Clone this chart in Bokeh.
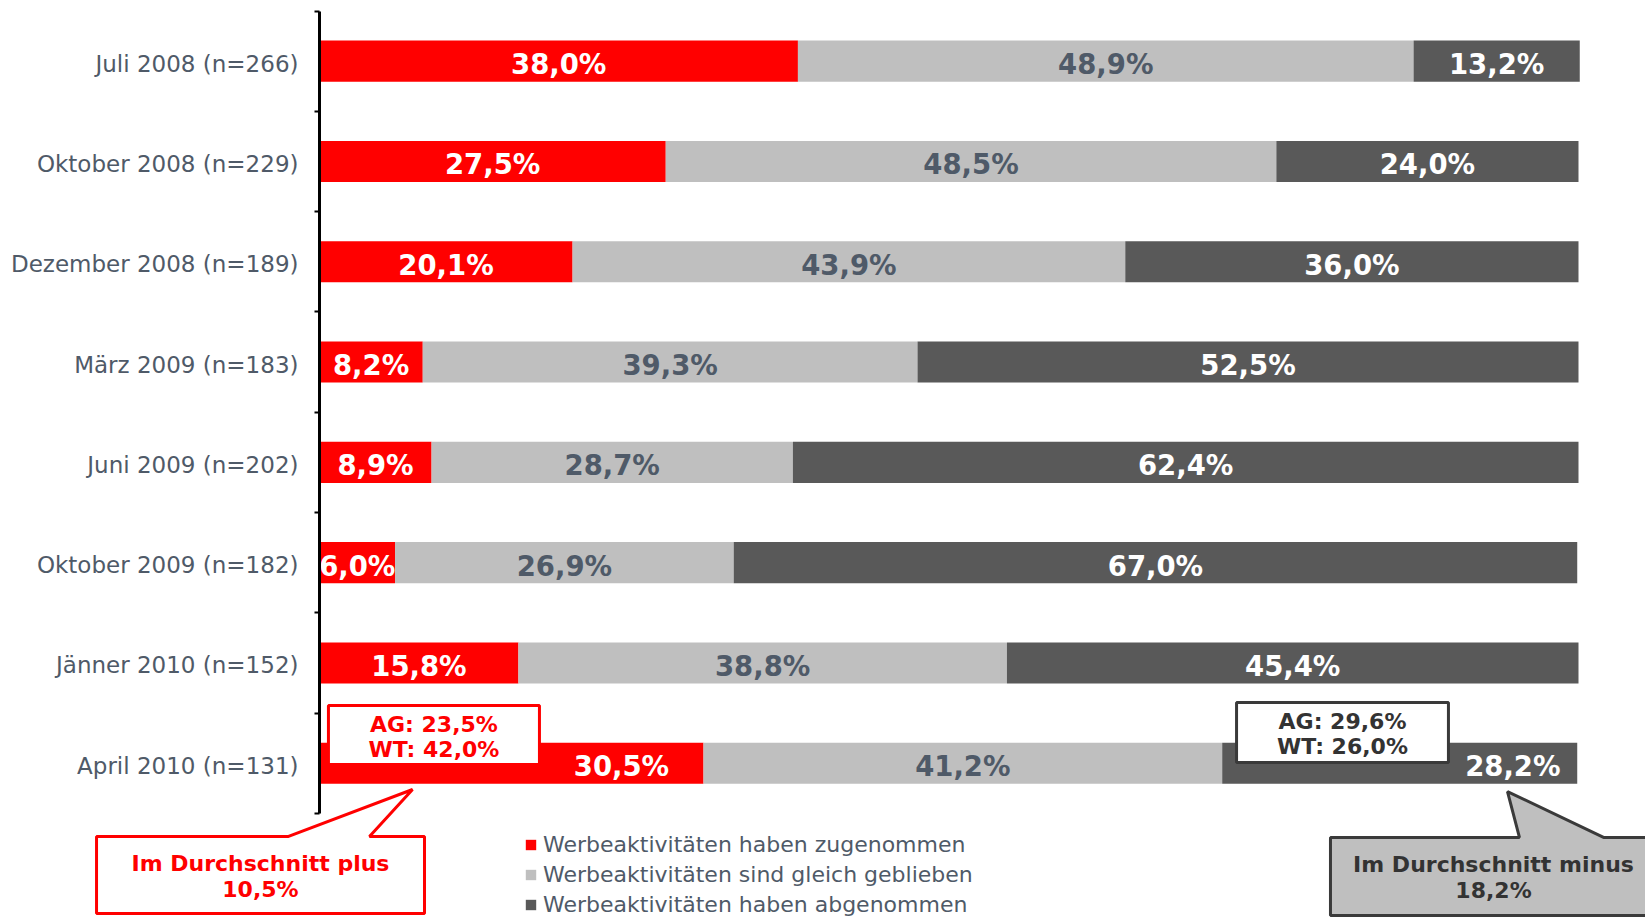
from bokeh.plotting import figure
from bokeh.models import (ColumnDataSource, Range1d, FixedTicker, Legend, LegendItem,
                          Label, BoxAnnotation, PolyAnnotation)
from bokeh.core.properties import value
from bokeh.embed import file_html
from bokeh.resources import INLINE

# ---------------- data ----------------
categories = ["Juli 2008 (n=266)", "Oktober 2008 (n=229)", "Dezember 2008 (n=189)",
              "März 2009 (n=183)", "Juni 2009 (n=202)", "Oktober 2009 (n=182)",
              "Jänner 2010 (n=152)", "April 2010 (n=131)"]
zugenommen = [38.0, 27.5, 20.1, 8.2, 8.9, 6.0, 15.8, 30.5]
gleich = [48.9, 48.5, 43.9, 39.3, 28.7, 26.9, 38.8, 41.2]
abgenommen = [13.2, 24.0, 36.0, 52.5, 62.4, 67.0, 45.4, 28.2]
series_names = ["Werbeaktivitäten haben zugenommen",
                "Werbeaktivitäten sind gleich geblieben",
                "Werbeaktivitäten haben abgenommen"]
plus_ag, plus_wt, plus_avg = 23.5, 42.0, 10.5
minus_ag, minus_wt, minus_avg = 29.6, 26.0, 18.2

# ---------------- styles ----------------
RED, LGRAY, DGRAY = "#ff0000", "#bfbfbf", "#595959"
SLATE = "#4f5a68"
DARK = "#333333"
FONT = "DejaVu Sans"


def pct(v):
    return f"{v:.1f}".replace(".", ",") + "%"


n = len(categories)
ypos = [i + 0.5 for i in range(n)]

src = ColumnDataSource(dict(y=ypos, z=zugenommen, g=gleich, a=abgenommen))

p = figure(width=1645, height=917, output_backend="svg", toolbar_location=None,
           x_range=Range1d(-25.338, 105.322), y_range=Range1d(start=9.038, end=-0.1047),
           x_axis_location=None, min_border_left=0, min_border_right=0,
           min_border_top=0, min_border_bottom=0)
p.outline_line_color = None
p.grid.visible = False
p.background_fill_color = "white"
p.border_fill_color = "white"

rs = p.hbar_stack(["z", "g", "a"], y="y", height=0.41, color=[RED, LGRAY, DGRAY],
                  line_color=None, source=src)

# y axis at x = 0: labels at band centres, tick marks at band boundaries
label_pos = [y + 0.025 for y in ypos]
ax = p.yaxis[0]
ax.fixed_location = 0
ax.ticker = FixedTicker(ticks=label_pos, minor_ticks=list(range(n + 1)))
ax.major_label_overrides = {y: c for y, c in zip(label_pos, categories)}
ax.bounds = (0, n)
ax.axis_line_color = "black"
ax.axis_line_width = 3
ax.major_tick_line_color = None
ax.major_tick_in = 0
ax.major_tick_out = 0
ax.minor_tick_line_color = "black"
ax.minor_tick_line_width = 2
ax.minor_tick_in = 0
ax.minor_tick_out = 5
ax.major_label_standoff = 16
ax.major_label_text_font = FONT
ax.major_label_text_font_size = "23px"
ax.major_label_text_color = SLATE

# callout boxes (layout positions in data units)
box1 = dict(left=0.71, right=17.47, top=6.924, bottom=7.512)
box2 = dict(left=72.84, right=89.67, top=6.894, bottom=7.492)

# value labels
lx, ly, lt, lc = [], [], [], []
for i in range(n):
    z, g, a = zugenommen[i], gleich[i], abgenommen[i]
    cz = z / 2
    ca = z + g + a / 2
    if i == n - 1:
        cz = (box1["right"] + z) / 2
        ca = (box2["right"] + z + g + a) / 2
    for xv, v, col in ((cz, z, "white"), (z + g / 2, g, SLATE), (ca, a, "white")):
        lx.append(xv)
        ly.append(ypos[i] + 0.03)
        lt.append(pct(v))
        lc.append(col)
p.text(x=lx, y=ly, text=lt, text_color=lc, text_align="center", text_baseline="middle",
       text_font=value(FONT), text_font_style="bold", text_font_size="27.5px")

# AG / WT boxes
p.add_layout(BoxAnnotation(**box1, fill_color="white", fill_alpha=1.0,
                           line_color=RED, line_width=3, line_alpha=1.0))
p.add_layout(BoxAnnotation(**box2, fill_color="white", fill_alpha=1.0,
                           line_color="#3a3a3a", line_width=3, line_alpha=1.0))


def add_label(x, y, text, color, size="22px"):
    p.add_layout(Label(x=x, y=y, text=text, text_align="center", text_baseline="middle",
                       text_font=FONT, text_font_style="bold", text_font_size=size,
                       text_color=color))


cx1 = (box1["left"] + box1["right"]) / 2
cx2 = (box2["left"] + box2["right"]) / 2
add_label(cx1, 7.114, "AG: " + pct(plus_ag), RED)
add_label(cx1, 7.363, "WT: " + pct(plus_wt), RED)
add_label(cx2, 7.083, "AG: " + pct(minus_ag), DARK)
add_label(cx2, 7.333, "WT: " + pct(minus_wt), DARK)

# speech-bubble callouts
p.add_layout(PolyAnnotation(
    xs=[-17.71, -2.46, 7.39, 3.97, 8.34, 8.34, -17.71],
    ys=[8.230, 8.230, 7.762, 8.230, 8.230, 8.998, 8.998],
    fill_color="white", fill_alpha=1.0, line_color=RED, line_width=3, line_alpha=1.0))
p.add_layout(PolyAnnotation(
    xs=[80.30, 95.31, 94.36, 101.99, 106.5, 106.5, 80.30],
    ys=[8.240, 8.240, 7.782, 8.240, 8.240, 9.018, 9.018],
    fill_color=LGRAY, fill_alpha=1.0, line_color="#3a3a3a", line_width=3, line_alpha=1.0))
add_label(-4.69, 8.499, "Im Durchschnitt plus", RED)
add_label(-4.69, 8.759, pct(plus_avg), RED)
add_label(93.25, 8.509, "Im Durchschnitt minus", DARK)
add_label(93.25, 8.768, pct(minus_avg), DARK)

# legend
legend = Legend(items=[LegendItem(label=s, renderers=[r]) for s, r in zip(series_names, rs)],
                location=(524, 0), orientation="vertical",
                glyph_width=13, glyph_height=13, label_standoff=6, spacing=5,
                padding=0, margin=0, border_line_color=None, background_fill_alpha=0,
                label_text_font=FONT, label_text_font_size="22px", label_text_color=SLATE)
p.add_layout(legend)

open("out.html", "w").write(file_html(p, INLINE))
